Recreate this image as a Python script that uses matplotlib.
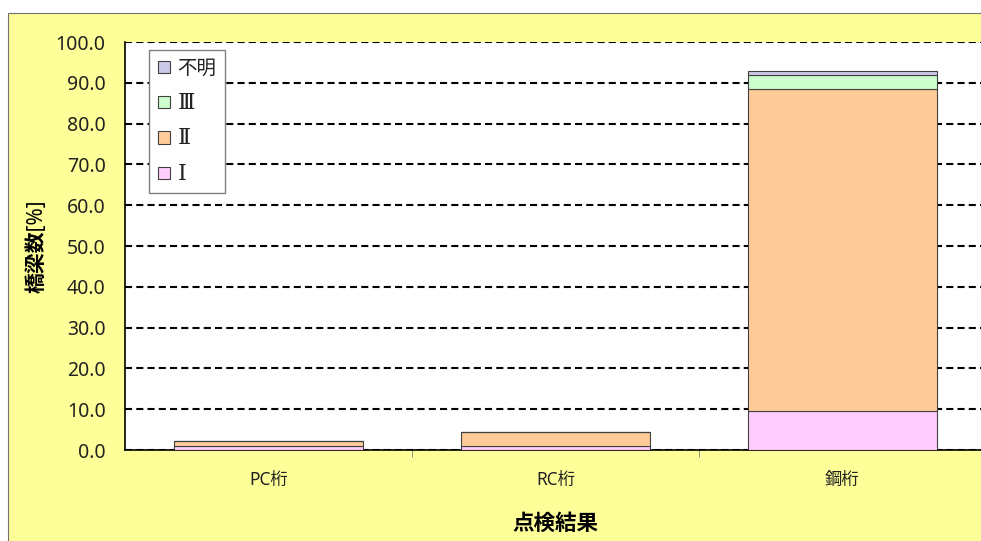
import numpy as np
import matplotlib.pyplot as plt
import matplotlib.patches as mpatches

plt.rcParams['font.family'] = ['Noto Sans', 'Noto Sans CJK JP']
plt.rcParams['text.color'] = '#222222'

categories = ['PC桁', 'RC桁', '鋼桁']
series_names = ['Ⅰ', 'Ⅱ', 'Ⅲ', '不明']
val_1 = [1.0, 1.0, 9.6]
val_2 = [1.3, 3.5, 78.9]
val_3 = [0.0, 0.0, 3.3]
val_unknown = [0.0, 0.0, 1.2]
yticks = np.arange(0, 101, 10)

colors = ['#FFCCFF', '#FFCC99', '#CCFFCC', '#CCC8E8']

fig = plt.figure(figsize=(9.81, 5.41), dpi=100)
fig.patch.set_facecolor('white')
# yellow chart area with thin border
bg = mpatches.Rectangle((8 / 981, -0.01), 1.0, 1.01 - 13 / 541, transform=fig.transFigure,
                        facecolor='#FFFF99', edgecolor='#707070', linewidth=0.8, zorder=-10)
fig.add_artist(bg)

ax = fig.add_axes([125 / 981, 1 - 450 / 541, 861 / 981, 408 / 541])
ax.set_facecolor('white')

x = np.arange(len(categories))
width = 0.66
bottom = np.zeros(len(categories))
handles = []
for name, vals, c in zip(series_names, [val_1, val_2, val_3, val_unknown], colors):
    ax.bar(x, vals, width=width, bottom=bottom, color=c, edgecolor='#404040',
           linewidth=0.8, zorder=3)
    bottom += np.array(vals)
    handles.append(mpatches.Patch(facecolor=c, edgecolor='#404040', linewidth=0.8, label=name))

ax.set_xlim(-0.5, 2.5)
ax.set_ylim(0, 100)
ax.set_yticks(yticks)
ax.set_yticklabels(['%.1f' % v for v in yticks], fontsize=14, color='#222222')
ax.yaxis.grid(True, linestyle=(0, (3.4, 2.0)), color='black', linewidth=1.5, zorder=1)
ax.set_xticks(x)
ax.set_xticklabels(categories, fontsize=12.5, color='#222222')
ax.set_xticks([0.5, 1.5], minor=True)
ax.tick_params(axis='x', which='major', length=0, pad=15)
ax.tick_params(axis='x', which='minor', length=5, width=0.6, colors='#808080')
ax.tick_params(axis='y', length=0, pad=14)
for s in ['top', 'right']:
    ax.spines[s].set_visible(False)
ax.spines['left'].set_linewidth(1.2)
ax.spines['bottom'].set_linewidth(1.2)

ax.set_ylabel('橋梁数[%]', fontsize=15, fontweight='bold', labelpad=6)
ax.set_xlabel('点検結果', fontsize=15.5, fontweight='bold', labelpad=18)

leg = ax.legend(handles=handles[::-1], loc='upper left', bbox_to_anchor=(0.028, 0.98),
                borderaxespad=0, fontsize=14, handlelength=0.6, handleheight=0.6,
                handletextpad=0.4, labelspacing=0.68, borderpad=0.45, fancybox=False,
                framealpha=1, edgecolor='#808080')
leg.get_frame().set_linewidth(1.0)
leg.set_zorder(5)
for t in leg.get_texts():
    if t.get_text() != '不明':
        t.set_fontfamily(['DejaVu Serif', 'Noto Sans CJK JP'])
        t.set_fontsize(16)

fig.savefig('out.png', dpi=100, facecolor=fig.get_facecolor())
